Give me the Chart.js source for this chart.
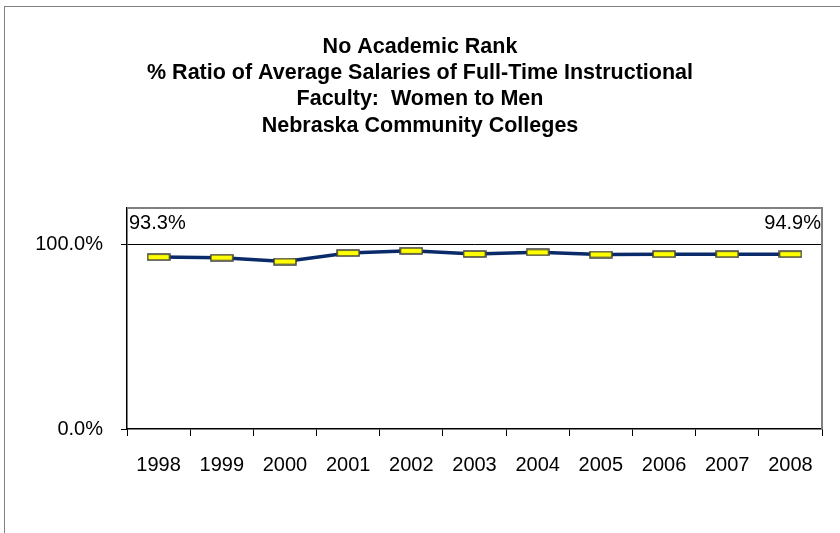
<!DOCTYPE html>
<html>
<head>
<meta charset="utf-8">
<script src="https://cdn.jsdelivr.net/npm/chart.js@4/dist/chart.umd.min.js"></script>
<style>
  html, body { margin: 0; padding: 0; background: #fff; }
  #wrap { position: relative; width: 840px; height: 533px; overflow: hidden; }
  #frame { position: absolute; left: 4px; top: 6px; width: 900px; height: 600px; border-left: 1px solid #808080; border-top: 1px solid #808080; }
  canvas { position: absolute; left: 0; top: 0; }
</style>
</head>
<body>
<div id="wrap">
  <div id="frame"></div>
  <canvas id="chart" width="840" height="533"></canvas>
</div>
<script>
// chart data
const years = ['1998', '1999', '2000', '2001', '2002', '2003', '2004', '2005', '2006', '2007', '2008'];
const ratio = [93.3, 93.0, 90.9, 95.5, 96.7, 95.0, 95.9, 94.7, 94.9, 94.9, 94.9];
const titleLines = ['No Academic Rank', '% Ratio of Average Salaries of Full-Time Instructional', 'Faculty:  Women to Men', 'Nebraska Community Colleges'];
const yTickLabels = [0, 100];

// yellow dash marker
const marker = document.createElement('canvas');
marker.width = 24; marker.height = 8;
const mctx = marker.getContext('2d');
mctx.fillStyle = '#FFFF00';
mctx.strokeStyle = '#404040';
mctx.lineWidth = 1.5;
mctx.fillRect(1, 1, 22, 6);
mctx.strokeRect(1, 1, 22, 6);

const FONT = 'Liberation Sans, Arial, sans-serif';

// grey frame on top/right of plot + end labels
const plotExtras = {
  id: 'plotExtras',
  afterDraw(chart) {
    const { ctx, chartArea } = chart;
    ctx.save();
    ctx.strokeStyle = '#808080';
    ctx.lineWidth = 2;
    ctx.beginPath();
    ctx.moveTo(chartArea.left, chartArea.top);
    ctx.lineTo(chartArea.right, chartArea.top);
    ctx.lineTo(chartArea.right, chartArea.bottom);
    ctx.stroke();

    ctx.fillStyle = '#000';
    ctx.font = '20px ' + FONT;
    ctx.textBaseline = 'middle';
    ctx.textAlign = 'left';
    ctx.fillText(ratio[0].toFixed(1) + '%', chartArea.left + 2, chartArea.top + 16);
    ctx.textAlign = 'right';
    ctx.fillText(ratio[ratio.length - 1].toFixed(1) + '%', chartArea.right - 1, chartArea.top + 16);
    ctx.restore();
  }
};

new Chart(document.getElementById('chart'), {
  type: 'line',
  data: {
    labels: years,
    datasets: [{
      data: ratio,
      borderColor: '#0B2A6A',
      borderWidth: 3.5,
      tension: 0,
      pointStyle: marker,
      pointRadius: 10,
      pointHoverRadius: 10
    }]
  },
  options: {
    responsive: false,
    animation: false,
    layout: { padding: { left: 18, right: 18, top: 0, bottom: 0 } },
    plugins: {
      legend: { display: false },
      tooltip: { enabled: false },
      title: {
        display: true,
        text: titleLines,
        color: '#000',
        font: { family: FONT, size: 21.5, weight: 'bold', lineHeight: 1.22 },
        padding: { top: 34, bottom: 69 }
      }
    },
    scales: {
      x: {
        offset: true,
        grid: { offset: true, drawOnChartArea: false, tickLength: 7, color: '#000', tickColor: '#000' },
        border: { color: '#000', width: 1.5 },
        ticks: { color: '#000', font: { family: FONT, size: 20 }, padding: 17, maxRotation: 0 },
        afterFit(scale) { scale.height = 104; }
      },
      y: {
        min: 0,
        max: 120,
        border: { color: '#000', width: 1.5 },
        grid: {
          color: ctx => ctx.tick && ctx.tick.value === 100 ? '#000' : 'rgba(0,0,0,0)',
          tickColor: ctx => ctx.tick && yTickLabels.includes(ctx.tick.value) ? '#000' : 'rgba(0,0,0,0)',
          tickLength: 6
        },
        ticks: {
          stepSize: 100,
          color: '#000',
          font: { family: FONT, size: 20 },
          padding: 18,
          callback: v => yTickLabels.includes(v) ? v.toFixed(1) + '%' : ''
        },
        afterFit(scale) { scale.width = 109; }
      }
    }
  },
  plugins: [plotExtras]
});
</script>
</body>
</html>
